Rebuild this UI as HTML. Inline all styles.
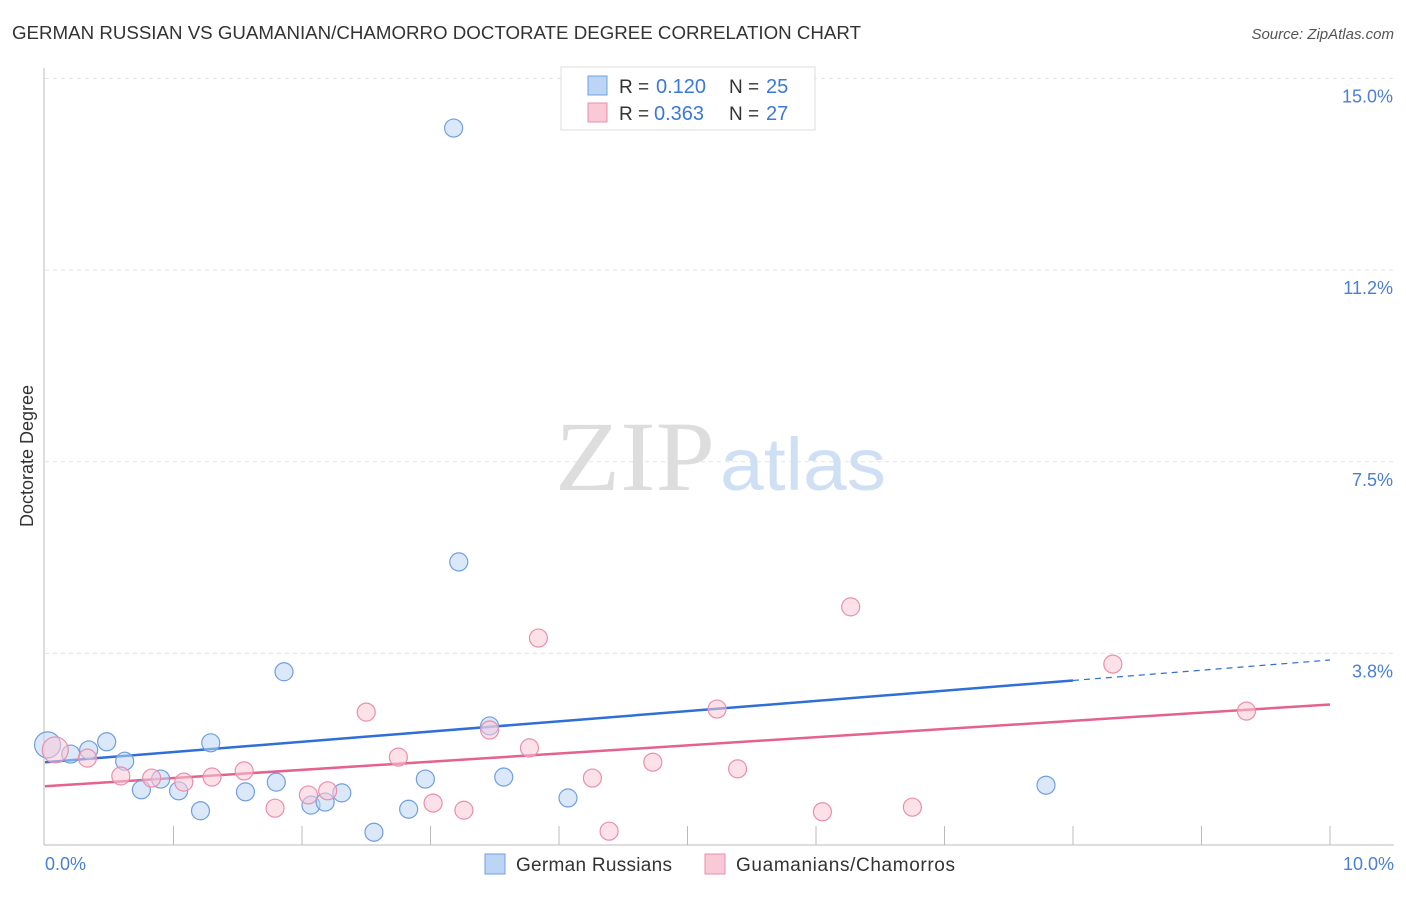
<!DOCTYPE html>
<html><head><meta charset="utf-8"><style>
body{margin:0;background:#fff;font-family:"Liberation Sans",sans-serif;}
</style></head><body>
<svg width="1406" height="892" xmlns="http://www.w3.org/2000/svg" style="font-family:'Liberation Sans',sans-serif">
<text x="12" y="39" font-size="18" fill="#333" textLength="849" lengthAdjust="spacingAndGlyphs">GERMAN RUSSIAN VS GUAMANIAN/CHAMORRO DOCTORATE DEGREE CORRELATION CHART</text>
<text x="1394" y="39" font-size="15" fill="#555" font-style="italic" text-anchor="end">Source: ZipAtlas.com</text>
<g id="grid"></g>
<g><text x="555" y="490" font-size="100" fill="#ddd" font-family="Liberation Serif" textLength="160" lengthAdjust="spacingAndGlyphs">ZIP</text><text x="720" y="490" font-size="74" fill="#cfe0f5" textLength="166" lengthAdjust="spacingAndGlyphs">atlas</text></g>
<line x1="44" y1="68" x2="44" y2="845" stroke="#bbb"/>
<line x1="44" y1="845" x2="1394" y2="845" stroke="#bbb"/>
<g id="ticks"></g>
<text x="33" y="456" font-size="18" fill="#333" text-anchor="middle" transform="rotate(-90 33 456)">Doctorate Degree</text>
<text x="45" y="870" font-size="18" fill="#4a7fd6">0.0%</text>
<text x="1394" y="870" font-size="18" fill="#4a7fd6" text-anchor="end">10.0%</text>
<g id="lines"></g>
<g id="pts"></g>
<g>
<rect x="561" y="67" width="254" height="63" fill="#fff" stroke="#ddd"/>
<rect x="588" y="76" width="19" height="19" fill="#bcd5f5" stroke="#6f9fe0"/>
<rect x="588" y="103" width="19" height="19" fill="#f9c9d7" stroke="#e98fab"/>
<text x="619" y="93" font-size="19" fill="#333">R =</text><text x="656" y="93" font-size="20" fill="#3b78d8">0.120</text>
<text x="729" y="93" font-size="19" fill="#333">N =</text><text x="766" y="93" font-size="20" fill="#3b78d8">25</text>
<text x="619" y="120" font-size="19" fill="#333">R =</text><text x="654" y="120" font-size="20" fill="#3b78d8">0.363</text>
<text x="729" y="120" font-size="19" fill="#333">N =</text><text x="766" y="120" font-size="20" fill="#3b78d8">27</text>
</g>
<g>
<rect x="485" y="854" width="20" height="20" fill="#bcd5f5" stroke="#6f9fe0"/>
<text x="516" y="871" font-size="19" fill="#333" textLength="156">German Russians</text>
<rect x="705" y="854" width="20" height="20" fill="#f9c9d7" stroke="#e98fab"/>
<text x="736" y="871" font-size="19" fill="#333" textLength="219">Guamanians/Chamorros</text>
</g>
</svg>
<script>
const yTicks=[3.75,7.5,11.25,15];
const yTickLabels=["3.8%","7.5%","11.2%","15.0%"];
const blueX=[0.02,0.20,0.34,0.48,0.62,0.75,0.90,1.04,1.21,1.29,1.56,1.80,1.86,2.07,2.18,2.31,2.56,2.83,2.96,3.18,3.22,3.46,3.57,4.07,7.79];
const blueY=[1.96,1.78,1.86,2.02,1.64,1.08,1.29,1.06,0.67,2.00,1.04,1.23,3.39,0.78,0.84,1.02,0.25,0.70,1.29,14.03,5.54,2.33,1.33,0.92,1.17];
const pinkX=[0.08,0.33,0.59,0.83,1.08,1.30,1.55,1.79,2.05,2.20,2.50,2.75,3.02,3.26,3.46,3.77,3.84,4.26,4.39,4.73,5.23,5.39,6.05,6.27,6.75,8.31,9.35];
const pinkY=[1.86,1.70,1.35,1.31,1.23,1.33,1.45,0.72,0.98,1.06,2.60,1.72,0.82,0.68,2.25,1.90,4.05,1.31,0.27,1.62,2.66,1.49,0.65,4.66,0.74,3.54,2.62];
const blueTrend=[1.62,3.62];
const pinkTrend=[1.15,2.75];
const NS="http://www.w3.org/2000/svg";
const X=v=>45+v*128.5, Y=v=>845-v*51.1;
function mk(t,a,p){const e=document.createElementNS(NS,t);for(const k in a)e.setAttribute(k,a[k]);p.appendChild(e);return e;}
const grid=document.getElementById('grid');
yTicks.forEach((t,i)=>{
 const l=mk('line',{x1:45,x2:1394,y1:Y(t),y2:Y(t),stroke:'#e3e3e3','stroke-dasharray':'4,4'},grid);
 
 
 const tx=mk('text',{x:1393,y:Y(t)+24,'font-size':18,fill:'#4a7fd6','text-anchor':'end'},grid);
 tx.textContent=yTickLabels[i];
 
 
});
const ticks=document.getElementById('ticks');
for(let i=1;i<=10;i++){const l=mk('line',{x1:X(i),x2:X(i),y1:826,y2:845,stroke:'#bbb'},ticks);
 
 }
const pts=document.getElementById('pts');
function draw(xs,ys,fill,stroke,name){xs.forEach((x,i)=>{
 const c=mk('circle',{cx:X(x),cy:Y(ys[i]),r:i===0?13:9,fill:fill,'fill-opacity':0.55,stroke:stroke,'stroke-width':1.2},pts);
 
 });}
draw(blueX,blueY,'#bcd5f5','#6f9fe0','german-russian-point');
draw(pinkX,pinkY,'#f9c9d7','#e98fab','guamanian-point');
const lines=document.getElementById('lines');
const bAt=v=>blueTrend[0]+(blueTrend[1]-blueTrend[0])*v/10;
let l1=mk('line',{x1:X(0),y1:Y(bAt(0)),x2:X(8),y2:Y(bAt(8)),stroke:'#2f6fd6','stroke-width':2.5},lines);


let l2=mk('line',{x1:X(8),y1:Y(bAt(8)),x2:X(10),y2:Y(bAt(10)),stroke:'#2f6fd6','stroke-width':1.2,'stroke-dasharray':'6,5'},lines);


let l3=mk('line',{x1:X(0),y1:Y(pinkTrend[0]),x2:X(10),y2:Y(pinkTrend[1]),stroke:'#e4628c','stroke-width':2.5},lines);


</script>
</body></html>
